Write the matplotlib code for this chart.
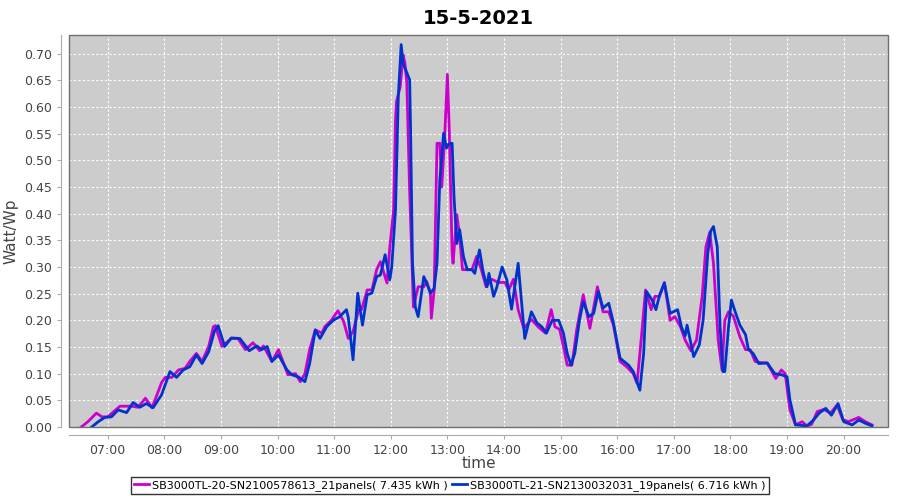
import pandas as pd
import matplotlib
matplotlib.use("Agg")
import matplotlib.pyplot as plt
import matplotlib.dates as mdates
from matplotlib.patches import Rectangle

# inverter 1 (magenta)
t_mag = ["06:32", "06:39", "06:48", "06:54", "07:00", "07:13", "07:25", "07:32", "07:40", "07:47",
         "07:57", "08:01", "08:08", "08:15", "08:22", "08:27", "08:34", "08:40", "08:47", "08:52",
         "08:54", "09:01", "09:11", "09:18", "09:26", "09:34", "09:41", "09:45", "09:54", "10:01",
         "10:11", "10:19", "10:24", "10:29", "10:34", "10:40", "10:47", "10:50", "10:57", "11:04",
         "11:10", "11:15", "11:20", "11:26", "11:29", "11:35", "11:40", "11:45", "11:49", "11:56",
         "11:59", "12:03", "12:05", "12:06", "12:10", "12:13", "12:15", "12:17", "12:20", "12:24",
         "12:29", "12:35", "12:38", "12:42", "12:43", "12:46", "12:49", "12:52", "12:54", "12:57",
         "13:00", "13:02", "13:05", "13:06", "13:10", "13:13", "13:16", "13:21", "13:26", "13:31",
         "13:36", "13:41", "13:47", "13:54", "14:01", "14:05", "14:10", "14:15", "14:21", "14:29",
         "14:36", "14:44", "14:50", "14:54", "14:59", "15:03", "15:07", "15:12", "15:17", "15:24",
         "15:31", "15:39", "15:45", "15:51", "15:56", "16:03", "16:10", "16:17", "16:21", "16:26",
         "16:30", "16:36", "16:40", "16:45", "16:50", "16:56", "17:01", "17:07", "17:12", "17:18",
         "17:24", "17:30", "17:34", "17:38", "17:42", "17:47", "17:51", "17:54", "17:58", "18:03",
         "18:10", "18:16", "18:21", "18:26", "18:31", "18:39", "18:44", "18:48", "18:54", "18:58",
         "19:03", "19:09", "19:16", "19:21", "19:26", "19:32", "19:39", "19:46", "19:53", "19:59",
         "20:05", "20:16", "20:23", "20:30"]
v_mag = [0.0, 0.01, 0.026, 0.019, 0.019, 0.039, 0.039, 0.037, 0.054, 0.036,
         0.083, 0.093, 0.093, 0.107, 0.110, 0.123, 0.138, 0.123, 0.151, 0.188,
         0.19, 0.151, 0.166, 0.166, 0.145, 0.158, 0.143, 0.152, 0.123, 0.145,
         0.098, 0.10, 0.085, 0.10, 0.145, 0.182, 0.176, 0.188, 0.20, 0.218,
         0.198, 0.166, 0.179, 0.22, 0.22, 0.257, 0.257, 0.295, 0.31, 0.27,
         0.338, 0.407, 0.576, 0.61, 0.638, 0.698, 0.682, 0.645, 0.441, 0.225,
         0.263, 0.263, 0.273, 0.251, 0.204, 0.257, 0.532, 0.532, 0.45, 0.539,
         0.661, 0.557, 0.326, 0.307, 0.398, 0.357, 0.295, 0.295, 0.295, 0.32,
         0.295, 0.263, 0.277, 0.271, 0.271, 0.257, 0.277, 0.22, 0.185, 0.202,
         0.188, 0.176, 0.22, 0.188, 0.183, 0.151, 0.116, 0.116, 0.182, 0.248,
         0.185, 0.263, 0.216, 0.216, 0.191, 0.123, 0.113, 0.10, 0.082, 0.176,
         0.257, 0.22, 0.245, 0.245, 0.271, 0.20, 0.207, 0.188, 0.163, 0.143,
         0.163, 0.245, 0.338, 0.365, 0.307, 0.163, 0.107, 0.20, 0.216, 0.208,
         0.169, 0.145, 0.145, 0.123, 0.121, 0.12, 0.104, 0.091, 0.107, 0.10,
         0.032, 0.004, 0.01, 0.002, 0.005, 0.029, 0.033, 0.026, 0.041, 0.014,
         0.01, 0.018, 0.01, 0.004]

# inverter 2 (blue)
t_blue = ["06:43", "06:50", "06:57", "07:04", "07:11", "07:20", "07:27", "07:34", "07:41", "07:48",
          "07:57", "08:06", "08:13", "08:20", "08:27", "08:34", "08:40", "08:47", "08:53", "08:57",
          "09:04", "09:11", "09:20", "09:30", "09:38", "09:43", "09:49", "09:54", "10:01", "10:10",
          "10:15", "10:22", "10:29", "10:34", "10:40", "10:45", "10:52", "10:59", "11:06", "11:13",
          "11:15", "11:20", "11:25", "11:30", "11:35", "11:40", "11:45", "11:49", "11:54", "11:59",
          "12:01", "12:05", "12:08", "12:11", "12:13", "12:17", "12:20", "12:21", "12:23", "12:26",
          "12:29", "12:35", "12:38", "12:42", "12:46", "12:49", "12:52", "12:56", "12:59", "13:01",
          "13:05", "13:07", "13:10", "13:13", "13:17", "13:21", "13:26", "13:29", "13:34", "13:38",
          "13:42", "13:44", "13:49", "13:52", "13:58", "14:03", "14:08", "14:15", "14:19", "14:22",
          "14:29", "14:35", "14:40", "14:45", "14:51", "14:58", "15:03", "15:07", "15:11", "15:15",
          "15:20", "15:24", "15:30", "15:35", "15:40", "15:45", "15:51", "15:56", "16:03", "16:12",
          "16:17", "16:24", "16:28", "16:31", "16:37", "16:41", "16:45", "16:50", "16:56", "17:04",
          "17:08", "17:12", "17:14", "17:21", "17:27", "17:31", "17:36", "17:39", "17:42", "17:46",
          "17:49", "17:52", "17:54", "17:58", "18:01", "18:05", "18:10", "18:16", "18:19", "18:24",
          "18:30", "18:39", "18:47", "18:54", "19:00", "19:03", "19:09", "19:21", "19:28", "19:34",
          "19:41", "19:47", "19:54", "20:00", "20:09", "20:16", "20:23", "20:30"]
v_blue = [0.0, 0.01, 0.018, 0.019, 0.032, 0.027, 0.046, 0.037, 0.044, 0.036,
          0.06, 0.104, 0.093, 0.107, 0.113, 0.135, 0.119, 0.141, 0.179, 0.19,
          0.151, 0.167, 0.166, 0.143, 0.152, 0.145, 0.151, 0.123, 0.135, 0.107,
          0.098, 0.094, 0.085, 0.119, 0.182, 0.166, 0.188, 0.20, 0.207, 0.22,
          0.205, 0.126, 0.251, 0.191, 0.248, 0.251, 0.282, 0.285, 0.323, 0.276,
          0.30, 0.407, 0.62, 0.717, 0.682, 0.664, 0.651, 0.557, 0.307, 0.225,
          0.207, 0.282, 0.27, 0.251, 0.26, 0.307, 0.464, 0.551, 0.523, 0.53,
          0.532, 0.432, 0.344, 0.37, 0.32, 0.295, 0.295, 0.288, 0.332, 0.29,
          0.263, 0.288, 0.245, 0.26, 0.30, 0.276, 0.221, 0.307, 0.226, 0.166,
          0.216, 0.195, 0.188, 0.176, 0.20, 0.20, 0.176, 0.138, 0.116, 0.138,
          0.20, 0.235, 0.207, 0.213, 0.254, 0.223, 0.232, 0.195, 0.129, 0.116,
          0.104, 0.069, 0.138, 0.254, 0.238, 0.22, 0.248, 0.27, 0.213, 0.22,
          0.188, 0.171, 0.191, 0.132, 0.154, 0.20, 0.326, 0.367, 0.376, 0.338,
          0.188, 0.104, 0.104, 0.188, 0.238, 0.216, 0.191, 0.173, 0.145, 0.138,
          0.119, 0.12, 0.10, 0.098, 0.094, 0.051, 0.004, 0.002, 0.013, 0.026,
          0.035, 0.022, 0.044, 0.01, 0.004, 0.013, 0.007, 0.002]

label_mag = "SB3000TL-20-SN2100578613_21panels( 7.435 kWh )"
label_blue = "SB3000TL-21-SN2130032031_19panels( 6.716 kWh )"

day = "2021-05-15 "
x_mag = pd.to_datetime([day + t for t in t_mag])
x_blue = pd.to_datetime([day + t for t in t_blue])

fig = plt.figure(figsize=(9, 5), dpi=100)
ax = fig.add_axes([0.0767, 0.146, 0.91, 0.784])
ax.set_facecolor("#cccccc")

ax.plot(x_mag, v_mag, color="#cc00cc", lw=2, label=label_mag, zorder=3)
ax.plot(x_blue, v_blue, color="#0033cc", lw=2, label=label_blue, zorder=3)

ax.set_xlim(pd.Timestamp(day + "06:19"), pd.Timestamp(day + "20:47"))
ax.set_ylim(0, 0.735)
ax.set_yticks([i * 0.05 for i in range(15)])
ax.yaxis.set_major_formatter(plt.FormatStrFormatter("%.2f"))
ax.xaxis.set_major_locator(mdates.HourLocator(byhour=range(7, 21)))
ax.xaxis.set_major_formatter(mdates.DateFormatter("%H:%M"))

ax.grid(True, color="white", linestyle=(0, (2, 2)), linewidth=0.8)
ax.set_axisbelow(True)

# offset axis lines like the original, plus a frame round the plot
for side in ["top", "right"]:
    ax.spines[side].set_visible(False)
for side in ["left", "bottom"]:
    ax.spines[side].set_position(("outward", 6))
    ax.spines[side].set_color("#aaaaaa")
ax.add_patch(Rectangle((0, 0), 1, 1, transform=ax.transAxes, fill=False,
                       edgecolor="#707070", lw=1, clip_on=False, zorder=4))
ax.tick_params(colors="#aaaaaa", labelcolor="#444444", labelsize=9, length=3)

ax.set_title("15-5-2021", fontsize=14, fontweight="bold", pad=8)
ax.set_ylabel("Watt/Wp", fontsize=11, color="#444444")
ax.set_xlabel("time", fontsize=11, color="#444444", labelpad=-1)

leg = fig.legend(loc="lower center", bbox_to_anchor=(0.5, 0.0), ncol=2,
                 fontsize=8, frameon=True, fancybox=False, handlelength=1.3,
                 handletextpad=0.3, columnspacing=0.4, borderpad=0.3)
leg.get_frame().set_edgecolor("black")
leg.get_frame().set_linewidth(1)

fig.savefig("out.png", dpi=100)
